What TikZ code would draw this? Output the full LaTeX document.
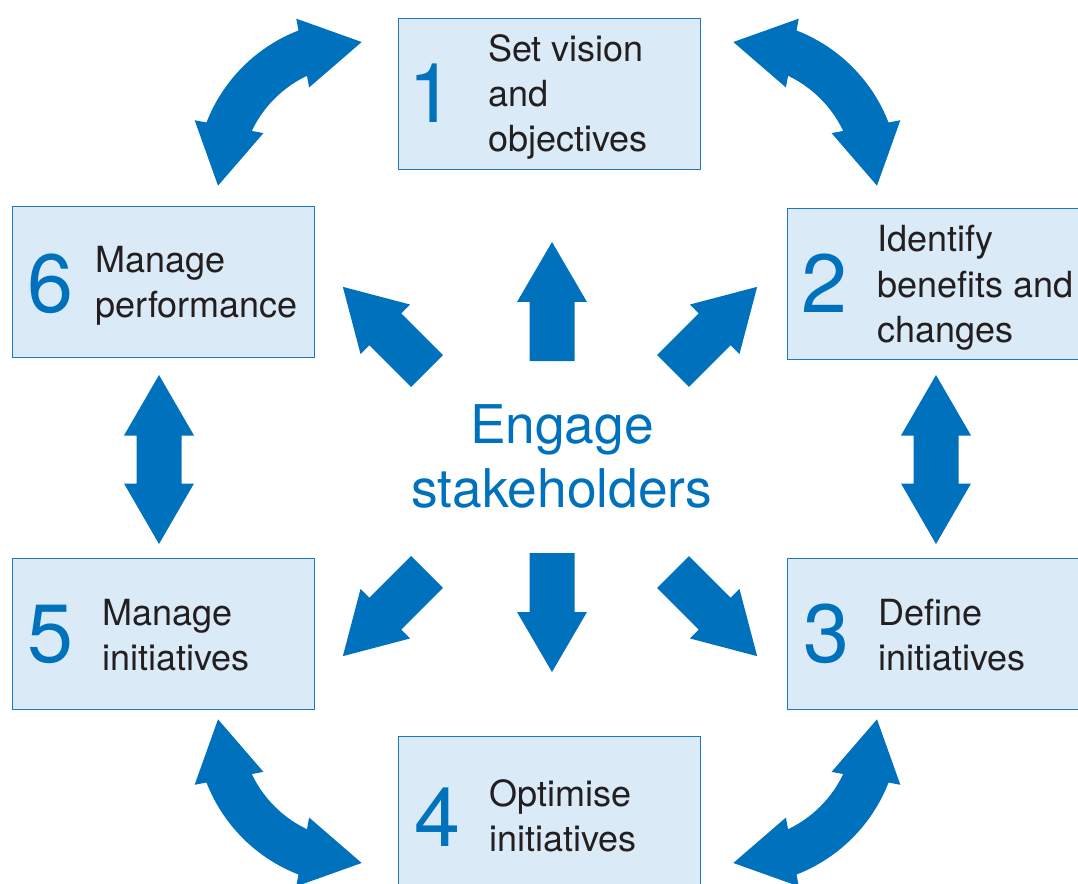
\documentclass[tikz,border=0pt]{standalone}
\usepackage{fontspec}
\setmainfont{TeX Gyre Heros}
\definecolor{ablue}{RGB}{0,113,188}
\definecolor{boxfill}{RGB}{218,234,246}
\definecolor{boxline}{RGB}{30,120,192}
\definecolor{txtgray}{RGB}{35,31,32}
\tikzset{
  box/.style={draw=boxline, fill=boxfill, line width=1.1pt, inner sep=0pt,
    minimum width=226.5pt, minimum height=113.25pt, anchor=north west},
  txt/.style={anchor=base west, inner sep=0pt, align=left, text=txtgray,
    font=\fontsize{27}{33.75}\selectfont},
  num/.style={anchor=base, inner sep=0pt, text=ablue, font=\fontsize{62}{62}\selectfont},
  blockarrow/.pic={\fill[ablue] (0,-22.5) -- (59,-22.5) -- (59,-35) -- (119,0) -- (59,35) -- (59,22.5) -- (0,22.5) -- cycle;},
  dblarrow/.pic={\fill[ablue] (-84.5,0) -- (-24,35) -- (-24,22.5) -- (24,22.5) -- (24,35) -- (84.5,0) -- (24,-35) -- (24,-22.5) -- (-24,-22.5) -- (-24,-35) -- cycle;},
  curvearrow/.pic={
    \begin{scope}[y=0.75pt]
      \fill[ablue] (-25:116.5) arc[start angle=-25, end angle=25, radius=116.5] -- (25:161.5) arc[start angle=25, end angle=-25, radius=161.5] -- cycle;
      \fill[ablue, shift={(22:139)}, rotate=124.4] (0,35) -- (0,-35) -- (60,0) -- cycle;
      \fill[ablue, shift={(-22:139)}, rotate=-124.4] (0,35) -- (0,-35) -- (60,0) -- cycle;
    \end{scope}
  }
}
\begin{document}
\begin{tikzpicture}[x=0.75pt,y=-0.75pt]
\useasboundingbox (0,0) rectangle (1078,884);
\clip (0,0) rectangle (1078,884);

% boxes
\node[box] (b1) at (398,18) {};
\node[box] (b2) at (787,208) {};
\node[box] (b3) at (787,558) {};
\node[box] (b4) at (398,736) {};
\node[box] (b5) at (12,558) {};
\node[box] (b6) at (12,206) {};

% numbers
\node[num] (n1) at (431,123) {1};
\node[num] (n2) at (824,313) {2};
\node[num] (n3) at (826,662) {3};
\node[num] (n4) at (437,846) {4};
\node[num] (n5) at (50,662) {5};
\node[num] (n6) at (50,312) {6};

% labels (anchored at the baseline of the last line)
\node[txt] (t1) at (488,152) {Set vision\\and\\objectives};
\node[txt] (t2) at (877,342) {Identify\\benefits and\\changes};
\node[txt] (t3) at (878,670) {Define\\initiatives};
\node[txt] (t4) at (489,851) {Optimise\\initiatives};
\node[txt] (t5) at (102,670) {Manage\\initiatives};
\node[txt] (t6) at (95,318) {Manage\\performance};

% centre
\node[anchor=base, inner sep=0pt, align=center, text=ablue,
  font=\fontsize{40}{48}\selectfont] (eng) at (562,507) {Engage\\stakeholders};

% centre arrows
\pic[rotate=90] at (552,361) {blockarrow};
\pic[rotate=270] at (552,553) {blockarrow};
\pic[rotate=135] at (427,371) {blockarrow};
\pic[rotate=45] at (673,371) {blockarrow};
\pic[rotate=225] at (427,572) {blockarrow};
\pic[rotate=315] at (673,572) {blockarrow};

% vertical double arrows
\pic[rotate=90] at (159,459.5) {dblarrow};
\pic[rotate=90] at (936,459.5) {dblarrow};

% curved double arrows
\pic[rotate=135] at (357,181) {curvearrow};
\pic[rotate=45] at (738,181) {curvearrow};
\pic[rotate=225] at (357,724) {curvearrow};
\pic[rotate=315] at (738,724) {curvearrow};
\end{tikzpicture}
\end{document}
